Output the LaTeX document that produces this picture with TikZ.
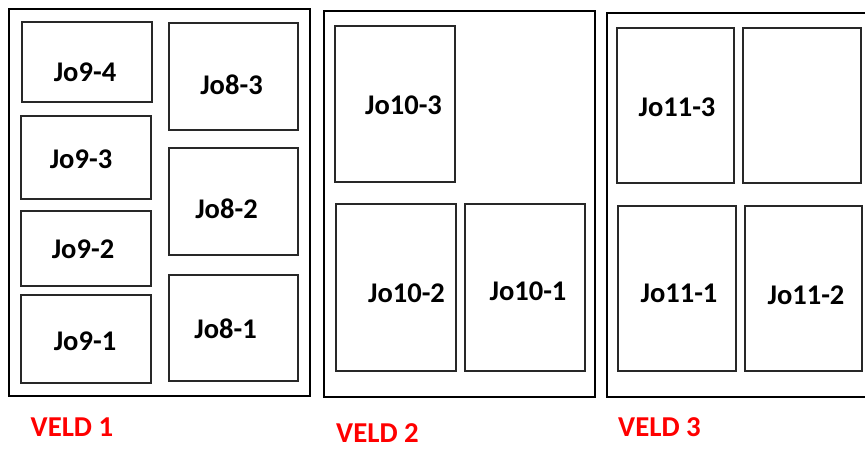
\documentclass[tikz,border=0pt]{standalone}
\usepackage{fontspec}
\setmainfont{Carlito}
\usetikzlibrary{fit}
\definecolor{veldred}{RGB}{255,0,0}
\definecolor{boxline}{RGB}{40,40,40}
\tikzset{
  outerbox/.style={draw=black, line width=2.6pt, inner sep=0pt},
  cellbox/.style={draw=boxline, line width=1.5pt, inner sep=0pt},
  plotlabel/.style={font=\bfseries\fontsize{28.5}{31}\selectfont, inner sep=0pt, text=black},
  veldlabel/.style={font=\bfseries\fontsize{28.8}{31}\selectfont, inner sep=0pt, text=veldred}
}
\begin{document}
\begin{tikzpicture}[x=1pt,y=-1pt]
\useasboundingbox (0,0) rectangle (865,448);
\clip (0,0) rectangle (865,448);
\fill[white] (0,0) rectangle (865,448);
% VELD 1
\node[outerbox, fit={(9,9) (310,396)}] (v1) {};
\node[cellbox, fit={(22,22) (152,102)}] (c94) {};
\node[cellbox, fit={(21,116) (151,199)}] (c93) {};
\node[cellbox, fit={(21,211) (151,286)}] (c92) {};
\node[cellbox, fit={(21,295) (151,383)}] (c91) {};
\node[cellbox, fit={(169,23) (298,130)}] (c83) {};
\node[cellbox, fit={(169,148) (298,255)}] (c82) {};
\node[cellbox, fit={(169,275) (298,381)}] (c81) {};
\node[plotlabel] (t94) at (85,72.5) {Jo9-4};
\node[plotlabel] (t93) at (81,159) {Jo9-3};
\node[plotlabel] (t92) at (83,249) {Jo9-2};
\node[plotlabel] (t91) at (85,341) {Jo9-1};
\node[plotlabel] (t83) at (231.5,85) {Jo8-3};
\node[plotlabel] (t82) at (226.5,209) {Jo8-2};
\node[plotlabel] (t81) at (225.5,329) {Jo8-1};
\node[veldlabel] (l1) at (72,427) {VELD 1};
% VELD 2
\node[outerbox, fit={(324,11) (595,397)}] (v2) {};
\node[cellbox, fit={(335,26) (455,182)}] (c103) {};
\node[cellbox, fit={(336,204) (456,371)}] (c102) {};
\node[cellbox, fit={(465,204) (585,371)}] (c101) {};
\node[plotlabel] (t103) at (403.5,105) {Jo10-3};
\node[plotlabel] (t102) at (406.5,293) {Jo10-2};
\node[plotlabel] (t101) at (528,291) {Jo10-1};
\node[veldlabel] (l2) at (377.5,433) {VELD 2};
% VELD 3
\node[outerbox, fit={(607,13) (885,397)}] (v3) {};
\node[cellbox, fit={(617,28) (734,183)}] (c113) {};
\node[cellbox, fit={(743,28) (861,183)}] (c11x) {};
\node[cellbox, fit={(618,206) (736,371)}] (c111) {};
\node[cellbox, fit={(745,206) (862,371)}] (c112) {};
\node[plotlabel] (t113) at (677,107) {Jo11-3};
\node[plotlabel] (t111) at (679,293) {Jo11-1};
\node[plotlabel] (t112) at (806,295) {Jo11-2};
\node[veldlabel] (l3) at (659.5,427) {VELD 3};
\end{tikzpicture}
\end{document}
